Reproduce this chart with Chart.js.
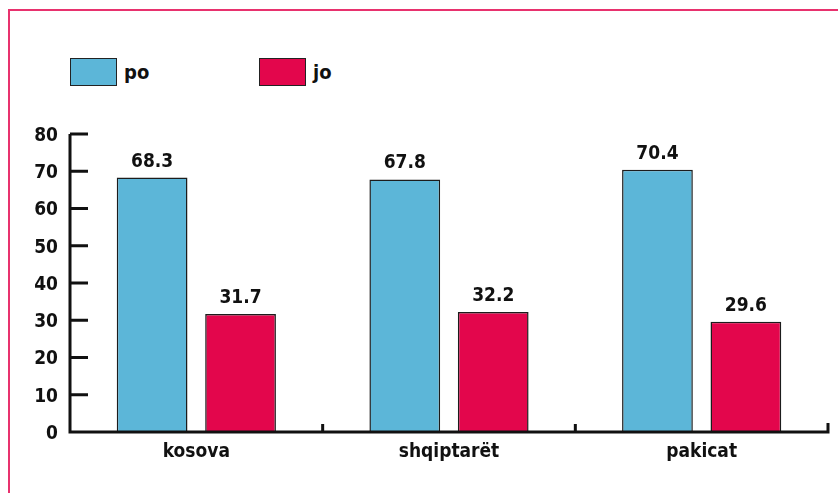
<!DOCTYPE html>
<html>
<head>
<meta charset="utf-8">
<script src="https://cdn.jsdelivr.net/npm/chart.js@4.4.1/dist/chart.umd.min.js"></script>
<style>
  html, body { margin: 0; padding: 0; background: #fff; }
  #wrap { position: relative; width: 838px; height: 493px; overflow: hidden; }
  #frame { position: absolute; left: 8px; top: 9px; width: 840px; height: 500px;
           border-top: 2px solid #e8326e; border-left: 2px solid #e8326e; }
  #legend { position: absolute; left: 70px; top: 58px; height: 29px; }
  .item { position: absolute; top: 0; display: flex; align-items: center; white-space: nowrap;
          font-family: "DejaVu Sans Condensed", sans-serif; font-weight: bold; font-size: 20px; color: #111; }
  .box { width: 45px; height: 26px; border: 1.5px solid #222; margin-right: 7px; }
  canvas { position: absolute; left: 0; top: 0; }
</style>
</head>
<body>
<div id="wrap">
  <div id="frame"></div>
  <div id="legend"></div>
  <canvas id="chart" width="838" height="493"></canvas>
</div>
<script>
const categories = ['kosova', 'shqiptarët', 'pakicat'];
const seriesNames = ['po', 'jo'];
const poValues = [68.3, 67.8, 70.4];
const joValues = [31.7, 32.2, 29.6];
const yTicks = [0, 10, 20, 30, 40, 50, 60, 70, 80];

const colors = ['#5cb6d8', '#e3064c'];
const fontFamily = '"DejaVu Sans Condensed", sans-serif';

// legend (html)
const legend = document.getElementById('legend');
const legendOffsets = [0, 189];
seriesNames.forEach((name, i) => {
  const el = document.createElement('div');
  el.className = 'item';
  el.style.left = legendOffsets[i] + 'px';
  el.innerHTML = '<div class="box" style="background:' + colors[i] + '"></div>' + name;
  legend.appendChild(el);
});

// axes, inward ticks, value labels
const decor = {
  id: 'decor',
  afterDatasetsDraw(chart) {
    const { ctx, chartArea: a, scales: { x, y } } = chart;
    ctx.save();
    ctx.strokeStyle = '#111';
    ctx.lineWidth = 3;
    ctx.lineCap = 'butt';
    ctx.beginPath();
    ctx.moveTo(a.left, a.top);
    ctx.lineTo(a.left, a.bottom);
    ctx.lineTo(a.right, a.bottom);
    ctx.lineTo(a.right, a.bottom - 9);
    yTicks.forEach(v => {
      const py = y.getPixelForValue(v);
      if (v > 0) { ctx.moveTo(a.left, py); ctx.lineTo(a.left + 18, py); }
    });
    const step = x.getPixelForValue(1) - x.getPixelForValue(0);
    for (let i = 1; i < categories.length; i++) {
      const px = x.getPixelForValue(i) - step / 2;
      ctx.moveTo(px, a.bottom);
      ctx.lineTo(px, a.bottom - 8);
    }
    ctx.stroke();

    ctx.fillStyle = '#111';
    ctx.font = 'bold 19px ' + fontFamily;
    ctx.textAlign = 'center';
    ctx.textBaseline = 'alphabetic';
    chart.data.datasets.forEach((ds, di) => {
      chart.getDatasetMeta(di).data.forEach((bar, i) => {
        ctx.fillText(ds.data[i].toFixed(1), bar.x, bar.y - 11);
      });
    });
    ctx.restore();
  }
};

new Chart(document.getElementById('chart'), {
  type: 'bar',
  data: {
    labels: categories,
    datasets: [
      { label: seriesNames[0], data: poValues, backgroundColor: colors[0] },
      { label: seriesNames[1], data: joValues, backgroundColor: colors[1] }
    ]
  },
  options: {
    responsive: false,
    animation: false,
    events: [],
    layout: { padding: { left: 8, top: 134, right: 10, bottom: 0 } },
    datasets: {
      bar: {
        borderColor: '#1c1c1c',
        borderWidth: 1.5,
        borderSkipped: 'bottom',
        categoryPercentage: 0.70,
        barPercentage: 0.80
      }
    },
    plugins: {
      legend: { display: false },
      tooltip: { enabled: false }
    },
    scales: {
      x: {
        grid: { display: false, drawTicks: false },
        border: { display: false },
        ticks: { color: '#111', padding: 9, font: { family: fontFamily, size: 19, weight: 'bold' } },
        afterFit: s => { s.height = 61; }
      },
      y: {
        min: 0,
        max: 80,
        grid: { display: false, drawTicks: false },
        border: { display: false },
        afterBuildTicks: s => { s.ticks = yTicks.map(v => ({ value: v })); },
        ticks: { color: '#111', padding: 12, labelOffset: 2, font: { family: fontFamily, size: 19, weight: 'bold' } },
        afterFit: s => { s.width = 62; }
      }
    }
  },
  plugins: [decor]
});
</script>
</body>
</html>
